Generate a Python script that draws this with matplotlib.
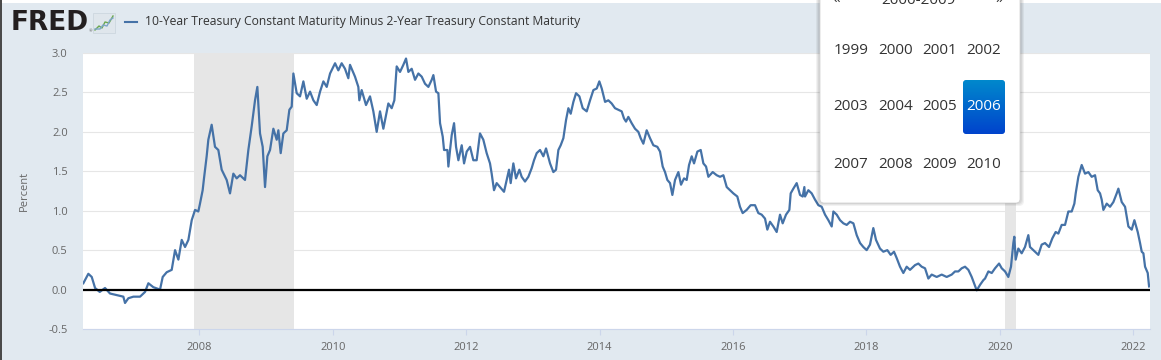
import matplotlib.pyplot as plt
from matplotlib.patches import Rectangle, FancyBboxPatch
from matplotlib.colors import LinearSegmentedColormap
import numpy as np

# 10Y minus 2Y treasury spread (decimal years, percent)
dates = [
    2006.261, 2006.336, 2006.387, 2006.437, 2006.507, 2006.586, 2006.661, 2006.761,
    2006.861, 2006.886, 2006.936, 2007.011, 2007.111, 2007.186, 2007.236, 2007.311,
    2007.411, 2007.451, 2007.511, 2007.586, 2007.636, 2007.686, 2007.736, 2007.786,
    2007.836, 2007.886, 2007.936, 2007.985, 2008.010, 2008.050, 2008.070, 2008.110,
    2008.135, 2008.185, 2008.235, 2008.285, 2008.335, 2008.410, 2008.460, 2008.510,
    2008.560, 2008.610, 2008.685, 2008.735, 2008.785, 2008.835, 2008.870, 2008.910,
    2008.950, 2008.985,
    2009.020, 2009.060, 2009.110, 2009.160, 2009.185, 2009.220, 2009.260, 2009.310,
    2009.350, 2009.385, 2009.410, 2009.460, 2009.510, 2009.560, 2009.610, 2009.660,
    2009.710, 2009.760, 2009.810, 2009.860, 2009.910, 2009.960, 2010.035, 2010.084,
    2010.134, 2010.184, 2010.234, 2010.259, 2010.334, 2010.384, 2010.399, 2010.434,
    2010.499, 2010.559, 2010.609, 2010.659, 2010.709, 2010.759, 2010.834, 2010.884,
    2010.924, 2010.959, 2011.009, 2011.059, 2011.099, 2011.134, 2011.184, 2011.234,
    2011.284, 2011.334, 2011.384, 2011.434, 2011.484, 2011.509, 2011.549, 2011.584,
    2011.609, 2011.649, 2011.669,
    2011.719, 2011.734, 2011.759, 2011.784, 2011.819, 2011.849, 2011.884, 2011.934,
    2011.969, 2012.009, 2012.059, 2012.108, 2012.158, 2012.208, 2012.258, 2012.308,
    2012.358, 2012.383, 2012.418, 2012.458, 2012.508, 2012.568, 2012.608, 2012.643,
    2012.668, 2012.708, 2012.748, 2012.798, 2012.833, 2012.883, 2012.933, 2012.983,
    2013.018, 2013.058, 2013.108, 2013.158, 2013.198, 2013.258, 2013.308, 2013.348,
    2013.383, 2013.418, 2013.458, 2013.498, 2013.533, 2013.568, 2013.608, 2013.648,
    2013.698, 2013.748, 2013.808, 2013.858, 2013.908, 2013.958, 2013.997, 2014.033,
    2014.083, 2014.132, 2014.182, 2014.232, 2014.282, 2014.332, 2014.367,
    2014.397, 2014.432, 2014.482, 2014.532, 2014.582, 2014.617, 2014.657, 2014.707,
    2014.757, 2014.807, 2014.867, 2014.907, 2014.947, 2014.982, 2015.017, 2015.057,
    2015.092, 2015.132, 2015.182, 2015.222, 2015.267, 2015.307, 2015.342, 2015.382,
    2015.417, 2015.467, 2015.517, 2015.557, 2015.597, 2015.632, 2015.697, 2015.757,
    2015.807, 2015.857, 2015.907, 2015.957, 2016.006, 2016.066, 2016.106, 2016.146,
    2016.206, 2016.266, 2016.331, 2016.381, 2016.431, 2016.481, 2016.516, 2016.556,
    2016.606, 2016.656, 2016.706, 2016.746, 2016.796, 2016.846, 2016.866, 2016.906,
    2016.956, 2017.006, 2017.046, 2017.071,
    2017.081, 2017.131, 2017.181, 2017.231, 2017.281, 2017.331, 2017.381, 2017.431,
    2017.481, 2017.506, 2017.556, 2017.606, 2017.656, 2017.706, 2017.756, 2017.806,
    2017.856, 2017.906, 2017.955, 2018.005, 2018.055, 2018.105, 2018.145, 2018.205,
    2018.255, 2018.315, 2018.365, 2018.415, 2018.455, 2018.505, 2018.555, 2018.605,
    2018.655, 2018.730, 2018.780, 2018.830, 2018.880, 2018.930, 2018.980, 2019.055,
    2019.130, 2019.205, 2019.280, 2019.330, 2019.380, 2019.430, 2019.480, 2019.530,
    2019.580, 2019.615, 2019.655, 2019.705, 2019.755,
    2019.780, 2019.830, 2019.880, 2019.930, 2019.990, 2020.030, 2020.080, 2020.129,
    2020.169, 2020.204, 2020.219, 2020.239, 2020.279, 2020.329, 2020.379, 2020.429,
    2020.454, 2020.504, 2020.579, 2020.629, 2020.679, 2020.739, 2020.789, 2020.839,
    2020.879, 2020.929, 2020.979, 2021.029, 2021.079, 2021.119, 2021.139, 2021.179,
    2021.229, 2021.279, 2021.329, 2021.379, 2021.429, 2021.469, 2021.504, 2021.529,
    2021.554, 2021.604, 2021.654, 2021.704, 2021.754, 2021.779, 2021.829, 2021.879,
    2021.929, 2021.979, 2022.019, 2022.069, 2022.104, 2022.129, 2022.154, 2022.179,
    2022.219, 2022.239,
]
spread = [
    0.08, 0.20, 0.16, 0.02, -0.03, 0.02, -0.05, -0.07,
    -0.09, -0.17, -0.11, -0.09, -0.09, -0.03, 0.08, 0.03,
    0.00, 0.16, 0.22, 0.25, 0.50, 0.38, 0.63, 0.54,
    0.63, 0.88, 1.01, 0.99, 1.09, 1.26, 1.41, 1.69,
    1.90, 2.09, 1.81, 1.77, 1.52, 1.39, 1.22, 1.47,
    1.41, 1.45, 1.39, 1.77, 2.07, 2.40, 2.57, 1.98,
    1.81, 1.30,
    1.69, 1.77, 2.04, 1.90, 2.02, 1.73, 1.98, 2.02,
    2.28, 2.32, 2.74, 2.49, 2.45, 2.64, 2.42, 2.51,
    2.40, 2.34, 2.51, 2.64, 2.57, 2.74, 2.87, 2.78,
    2.87, 2.80, 2.68, 2.85, 2.70, 2.57, 2.40, 2.53,
    2.34, 2.45, 2.26, 2.00, 2.26, 2.04, 2.36, 2.30,
    2.40, 2.83, 2.76, 2.85, 2.93, 2.76, 2.80, 2.66,
    2.74, 2.70, 2.61, 2.57, 2.66, 2.72, 2.51, 2.49,
    2.11, 1.94, 1.77,
    1.77, 1.56, 1.77, 1.96, 2.11, 1.81, 1.64, 1.83,
    1.60, 1.75, 1.81, 1.64, 1.64, 1.98, 1.90, 1.73,
    1.60, 1.47, 1.26, 1.35, 1.30, 1.24, 1.39, 1.52,
    1.35, 1.60, 1.41, 1.52, 1.43, 1.37, 1.43, 1.54,
    1.64, 1.73, 1.77, 1.69, 1.79, 1.60, 1.49, 1.52,
    1.77, 1.83, 1.92, 2.15, 2.30, 2.23, 2.38, 2.49,
    2.45, 2.30, 2.26, 2.40, 2.53, 2.55, 2.64, 2.55,
    2.38, 2.40, 2.36, 2.30, 2.28, 2.26, 2.17,
    2.13, 2.19, 2.11, 2.04, 2.00, 1.92, 1.85, 2.02,
    1.92, 1.83, 1.81, 1.75, 1.56, 1.49, 1.39, 1.35,
    1.20, 1.39, 1.49, 1.33, 1.41, 1.39, 1.58, 1.69,
    1.60, 1.75, 1.77, 1.60, 1.56, 1.43, 1.49, 1.45,
    1.43, 1.45, 1.30, 1.26, 1.22, 1.18, 1.05, 0.97,
    1.01, 1.07, 1.07, 0.97, 0.95, 0.90, 0.76, 0.86,
    0.80, 0.73, 0.95, 0.84, 0.95, 1.01, 1.22, 1.28,
    1.35, 1.20, 1.18, 1.30,
    1.18, 1.26, 1.22, 1.14, 1.07, 1.05, 0.95, 0.88,
    0.80, 0.99, 0.95, 0.88, 0.84, 0.82, 0.86, 0.84,
    0.69, 0.59, 0.54, 0.50, 0.57, 0.78, 0.63, 0.52,
    0.48, 0.50, 0.44, 0.48, 0.40, 0.29, 0.21, 0.29,
    0.25, 0.31, 0.33, 0.29, 0.27, 0.14, 0.19, 0.16,
    0.19, 0.16, 0.19, 0.23, 0.23, 0.27, 0.29, 0.25,
    0.16, 0.08, -0.01, 0.06, 0.12,
    0.14, 0.23, 0.21, 0.27, 0.33, 0.27, 0.23, 0.16,
    0.29, 0.59, 0.67, 0.38, 0.52, 0.46, 0.54, 0.69,
    0.54, 0.50, 0.44, 0.57, 0.59, 0.54, 0.65, 0.73,
    0.71, 0.82, 0.82, 0.99, 0.99, 1.09, 1.22, 1.43,
    1.58, 1.47, 1.49, 1.43, 1.45, 1.26, 1.22, 1.14,
    1.01, 1.09, 1.05, 1.11, 1.22, 1.28, 1.11, 1.05,
    0.80, 0.76, 0.88, 0.73, 0.59, 0.48, 0.46, 0.29,
    0.21, 0.04,
]

rec_start = [2007.917, 2020.085]
rec_end = [2009.417, 2020.245]

year_ticks = [2008, 2010, 2012, 2014, 2016, 2018, 2020, 2022]
y_ticks = [-0.5, 0.0, 0.5, 1.0, 1.5, 2.0, 2.5, 3.0]

series_title = "10-Year Treasury Constant Maturity Minus 2-Year Treasury Constant Maturity"
picker_header = "2000-2009"
picker_years = [[1999, 2000, 2001, 2002],
                [2003, 2004, 2005, 2006],
                [2007, 2008, 2009, 2010]]
picked = 2006

W, H = 1161, 360
BG = '#e1e9f0'
LINE = '#4572a7'
plt.rcParams['font.family'] = ['Open Sans', 'DejaVu Sans']

fig = plt.figure(figsize=(W / 100, H / 100), dpi=100)
fig.patch.set_facecolor(BG)

# plot area in pixel terms
left, right, top, bottom = 83, 1150, 53, 329
ax = fig.add_axes([left / W, 1 - bottom / H, (right - left) / W, (bottom - top) / H])
ax.set_facecolor('white')
for s in ['top', 'right', 'left']:
    ax.spines[s].set_visible(False)
ax.spines['bottom'].set_color('#ccd6eb')
ax.spines['bottom'].set_linewidth(0.8)

for a, b in zip(rec_start, rec_end):
    ax.axvspan(a, b, color='#e6e6e6', lw=0, zorder=0)

ax.plot(dates, spread, color=LINE, lw=1.6, zorder=3)
ax.axhline(0, color='black', lw=1.6, zorder=4)

ax.set_xlim(2006.256, 2022.253)
ax.set_ylim(-0.5, 3.0)
ax.set_yticks(y_ticks)
ax.set_yticklabels(['%.1f' % v for v in y_ticks])
ax.set_xticks(year_ticks)
ax.set_xticklabels([str(y) for y in year_ticks])
ax.yaxis.grid(True, color='#e6e6e6', lw=0.8, zorder=1)
ax.set_axisbelow(True)
ax.tick_params(axis='y', length=0, labelsize=8, labelcolor='#666666', pad=11)
ax.tick_params(axis='x', length=4, width=0.8, color='#ccd6eb', labelsize=8,
               labelcolor='#666666', pad=5)
ax.set_ylabel('Percent', fontsize=8, color='#666666')
ax.yaxis.set_label_coords(-0.050, 0.5)

# overlay in pixel coords for header + date picker
ov = fig.add_axes([0, 0, 1, 1], zorder=10)
ov.set_xlim(0, W)
ov.set_ylim(H, 0)
ov.axis('off')
ov.patch.set_alpha(0)

ov.add_patch(Rectangle((0, 0), W, 3, fc='white', lw=0))
ov.add_patch(Rectangle((0, 0), 1.8, H, fc='#4a4a4a', lw=0))

# FRED logo
ov.text(11, 22.5, 'FRED', fontsize=19, fontweight='heavy', color='#231f20',
        va='center', ha='left', family='DejaVu Sans')
ov.text(88.5, 31, '®', fontsize=3, color='#555555', va='center')
ov.add_patch(Rectangle((93, 13), 22, 20, fc='#dfe6ec', ec='#c9d3dc', lw=0.5))
ov.plot([95, 99, 102, 105, 109, 113], [30, 26, 28, 22, 23, 16], color='#6aa84f', lw=1)
ov.plot([95, 100, 103, 107, 110, 113], [29, 29, 25, 26, 20, 18], color='#7ea6c9', lw=1)

ov.plot([125, 137], [22, 22], color=LINE, lw=1.5)
ov.text(145, 22, series_title, fontsize=8.7, color='#333333', va='center', ha='left')

# date picker popup
px0, px1, py1 = 820, 1020, 203
for i, al in enumerate([0.05, 0.05, 0.06]):
    g = 4 - i
    ov.add_patch(FancyBboxPatch((px0 - g, -10), px1 - px0 + 2 * g, py1 + 10 + g - 1,
                                boxstyle='round,pad=0,rounding_size=5',
                                fc='black', alpha=al, lw=0))
ov.add_patch(FancyBboxPatch((px0, -10), px1 - px0, py1 + 10,
                            boxstyle='round,pad=0,rounding_size=4',
                            fc='white', ec='#cccccc', lw=0.5))
# header row of the picker sits partly above the top edge, as in the screenshot
ov.text(836, 0, '«', fontsize=11, color='#333333', ha='center', va='center')
ov.text(999, 0, '»', fontsize=11, color='#333333', ha='center', va='center')
ov.text(918, 0, picker_header, fontsize=11, color='#333333', ha='center', va='center')

col_x = [851, 896, 940, 984]
row_y = [50, 107, 165]
cmap = LinearSegmentedColormap.from_list('sel', ['#0088cc', '#0044cc'])
for r, row in enumerate(picker_years):
    for c, yr in enumerate(row):
        color = '#333333'
        if yr == picked:
            color = 'white'
            box = FancyBboxPatch((col_x[c] - 21, row_y[r] - 27), 42, 54,
                                 boxstyle='round,pad=0,rounding_size=3',
                                 fc='none', lw=0, zorder=3)
            ov.add_patch(box)
            im = ov.imshow(np.linspace(0, 1, 50).reshape(-1, 1), cmap=cmap, aspect='auto',
                           extent=[col_x[c] - 21, col_x[c] + 21, row_y[r] + 27, row_y[r] - 27],
                           zorder=4)
            im.set_clip_path(box)
        ov.text(col_x[c], row_y[r], str(yr), fontsize=11, color=color,
                ha='center', va='center', zorder=5)
ov.set_xlim(0, W)
ov.set_ylim(H, 0)

fig.savefig('out.png', dpi=100, facecolor=BG)
